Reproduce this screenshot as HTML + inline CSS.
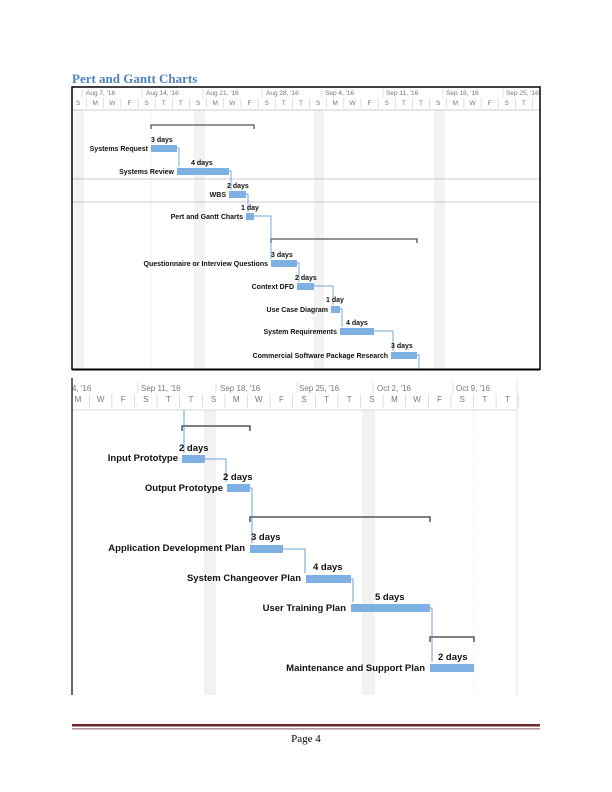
<!DOCTYPE html>
<html><head><meta charset="utf-8"><style>
body{margin:0;background:#fff;width:612px;height:792px;overflow:hidden}
svg{display:block}
.h{font-family:"Liberation Sans",sans-serif;font-size:6.5px;fill:#777}
.l{font-family:"Liberation Sans",sans-serif;font-weight:bold;font-size:7px;fill:#111}
.L{font-family:"Liberation Sans",sans-serif;font-weight:bold;font-size:9.5px;fill:#111}
.e{text-anchor:end}
.bar{fill:#7fb0e4}
</style></head><body>
<svg width="612" height="792" viewBox="0 0 612 792">
<text x="72" y="83" font-family="Liberation Serif,serif" font-weight="bold" font-size="13" fill="#4f81bd">Pert and Gantt Charts</text>

<g>
<rect x="74" y="110" width="10" height="259" fill="#f3f3f3"/>
<rect x="194" y="110" width="11" height="259" fill="#f3f3f3"/>
<rect x="314" y="110" width="10" height="259" fill="#f3f3f3"/>
<rect x="434" y="110" width="11" height="259" fill="#f3f3f3"/>
<line x1="151" y1="110" x2="151" y2="369" stroke="#ccc" stroke-dasharray="1,2" stroke-width="0.6"/>
<line x1="72" y1="110" x2="540" y2="110" stroke="#bbb" stroke-width="0.7"/>
<line x1="72" y1="179" x2="540" y2="179" stroke="#999" stroke-width="0.6"/>
<line x1="72" y1="202" x2="540" y2="202" stroke="#999" stroke-width="0.6"/>
<g class="h">
<text x="86" y="95">Aug 7, '16</text><text x="146" y="95">Aug 14, '16</text><text x="206" y="95">Aug 21, '16</text><text x="266" y="95">Aug 28, '16</text><text x="325" y="95">Sep 4, '16</text><text x="386" y="95">Sep 11, '16</text><text x="446" y="95">Sep 18, '16</text><text x="506" y="95">Sep 25, '16</text>
</g>
<g stroke="#ccc" stroke-width="0.6">
<line x1="82" y1="89" x2="82" y2="98"/><line x1="142" y1="89" x2="142" y2="98"/><line x1="203" y1="89" x2="203" y2="98"/><line x1="262" y1="89" x2="262" y2="98"/><line x1="322" y1="89" x2="322" y2="98"/><line x1="383" y1="89" x2="383" y2="98"/><line x1="443" y1="89" x2="443" y2="98"/><line x1="503" y1="89" x2="503" y2="98"/>
</g>
<g class="h" id="td"></g>
<g stroke="#555" stroke-width="1.3" fill="none">
<path d="M151 129V125H254V129"/><path d="M271 243V239H417V243"/>
</g>
<rect class="bar" x="151" y="145" width="26" height="7"/>
<rect class="bar" x="177" y="168" width="52" height="7"/>
<rect class="bar" x="229" y="191" width="17" height="7"/>
<rect class="bar" x="246" y="213" width="8" height="7"/>
<rect class="bar" x="271" y="260" width="26" height="7"/>
<rect class="bar" x="297" y="283" width="17" height="7"/>
<rect class="bar" x="331" y="306" width="9" height="7"/>
<rect class="bar" x="340" y="328" width="34" height="7"/>
<rect class="bar" x="391" y="352" width="26" height="7"/>
<g stroke="#4a86c8" stroke-width="0.7" fill="none">
<path d="M177 148H179V167"/><path d="M229 171H231V190"/><path d="M246 194H248V212"/><path d="M254 216H271V259"/><path d="M297 263H299V282"/><path d="M314 286H333V305"/><path d="M340 309H342V327"/><path d="M374 331H393V351"/><path d="M417 355H419V369"/>
</g>
<g class="l">
<text x="151" y="142">3 days</text><text class="e" x="148" y="151">Systems Request</text>
<text x="191" y="165">4 days</text><text class="e" x="174" y="174">Systems Review</text>
<text x="227" y="188">2 days</text><text class="e" x="226" y="197">WBS</text>
<text x="241" y="210">1 day</text><text class="e" x="243" y="219">Pert and Gantt Charts</text>
<text x="271" y="257">3 days</text><text class="e" x="268" y="266">Questionnaire or Interview Questions</text>
<text x="295" y="280">2 days</text><text class="e" x="294" y="289">Context DFD</text>
<text x="326" y="302">1 day</text><text class="e" x="328" y="312">Use Case Diagram</text>
<text x="346" y="325">4 days</text><text class="e" x="337" y="334">System Requirements</text>
<text x="391" y="348">3 days</text><text class="e" x="388" y="358">Commercial Software Package Research</text>
</g>
<path d="M72 370V87H540V370" fill="none" stroke="#000" stroke-width="1.5"/>
<line x1="72" y1="369.5" x2="540" y2="369.5" stroke="#000" stroke-width="2"/>
</g>

<g>
<rect x="204" y="410" width="12" height="285" fill="#f2f2f2"/>
<rect x="362" y="410" width="13" height="285" fill="#f2f2f2"/>
<line x1="474" y1="410" x2="474" y2="695" stroke="#ccc" stroke-dasharray="1,2" stroke-width="0.6"/>
<line x1="517" y1="378" x2="517" y2="695" stroke="#ddd" stroke-width="0.8"/>
<line x1="72" y1="410" x2="517" y2="410" stroke="#ccc" stroke-width="0.7"/>
<g class="h" style="font-size:8px">
<text x="72" y="391">4, '16</text><text x="141" y="391">Sep 11, '16</text><text x="220" y="391">Sep 18, '16</text><text x="299" y="391">Sep 25, '16</text><text x="377" y="391">Oct 2, '16</text><text x="456" y="391">Oct 9, '16</text>
</g>
<g stroke="#ccc" stroke-width="0.6">
<line x1="138" y1="382" x2="138" y2="393"/><line x1="216" y1="382" x2="216" y2="393"/><line x1="297" y1="382" x2="297" y2="393"/><line x1="373" y1="382" x2="373" y2="393"/><line x1="453" y1="382" x2="453" y2="393"/>
</g>
<g class="h" id="bd" style="font-size:8px"></g>
<g stroke="#555" stroke-width="1.5" fill="none">
<path d="M182 431V426H250V431"/><path d="M250 522V517H430V522"/><path d="M430 642V637H474V642"/>
</g>
<rect class="bar" x="182" y="455" width="23" height="8"/>
<rect class="bar" x="227" y="484" width="23" height="8"/>
<rect class="bar" x="250" y="545" width="33" height="8"/>
<rect class="bar" x="306" y="575" width="45" height="8"/>
<rect class="bar" x="351" y="604" width="79" height="8"/>
<rect class="bar" x="430" y="664" width="44" height="8"/>
<g stroke="#4a86c8" stroke-width="0.8" fill="none">
<path d="M184 410V453"/><path d="M205 459H226V482"/><path d="M250 488H252V543"/><path d="M283 549H305V573"/><path d="M351 579H353V602"/><path d="M430 608H432V662"/>
</g>
<g class="L">
<text x="179" y="451">2 days</text><text class="e" x="178" y="461">Input Prototype</text>
<text x="223" y="480">2 days</text><text class="e" x="223" y="491">Output Prototype</text>
<text x="251" y="540">3 days</text><text class="e" x="245" y="551">Application Development Plan</text>
<text x="313" y="570">4 days</text><text class="e" x="301" y="581">System Changeover Plan</text>
<text x="375" y="600">5 days</text><text class="e" x="346" y="611">User Training Plan</text>
<text x="438" y="660">2 days</text><text class="e" x="425" y="671">Maintenance and Support Plan</text>
</g>
<line x1="72" y1="378" x2="72" y2="695" stroke="#000" stroke-width="1.2"/>
</g>

<rect x="72" y="724" width="468" height="2.5" fill="#6b2a2a"/>
<rect x="72" y="728.5" width="468" height="0.8" fill="#6b2a2a"/>
<text x="306" y="742" text-anchor="middle" font-family="Liberation Serif,serif" font-size="11" fill="#000">Page 4</text>
</svg>
<script>
var ns="http://www.w3.org/2000/svg";
function days(id,x0,step,y,n,pat,tickTop,tickBot){var g=document.getElementById(id);
for(var i=0;i<n;i++){var x=x0+i*step;var t=document.createElementNS(ns,"text");t.setAttribute("x",x);t.setAttribute("y",y);t.setAttribute("text-anchor","middle");t.textContent=pat[i%pat.length];g.appendChild(t);
var l=document.createElementNS(ns,"line");l.setAttribute("x1",x+step/2);l.setAttribute("x2",x+step/2);l.setAttribute("y1",tickTop);l.setAttribute("y2",tickBot);l.setAttribute("stroke","#ccc");l.setAttribute("stroke-width","0.6");g.appendChild(l);}}
days("td",78,17.15,105,27,["S","M","W","F","S","T","T"],98,108);
days("bd",78,22.6,402,20,["M","W","F","S","T","T","S"],394,408);
</script>
</body></html>
